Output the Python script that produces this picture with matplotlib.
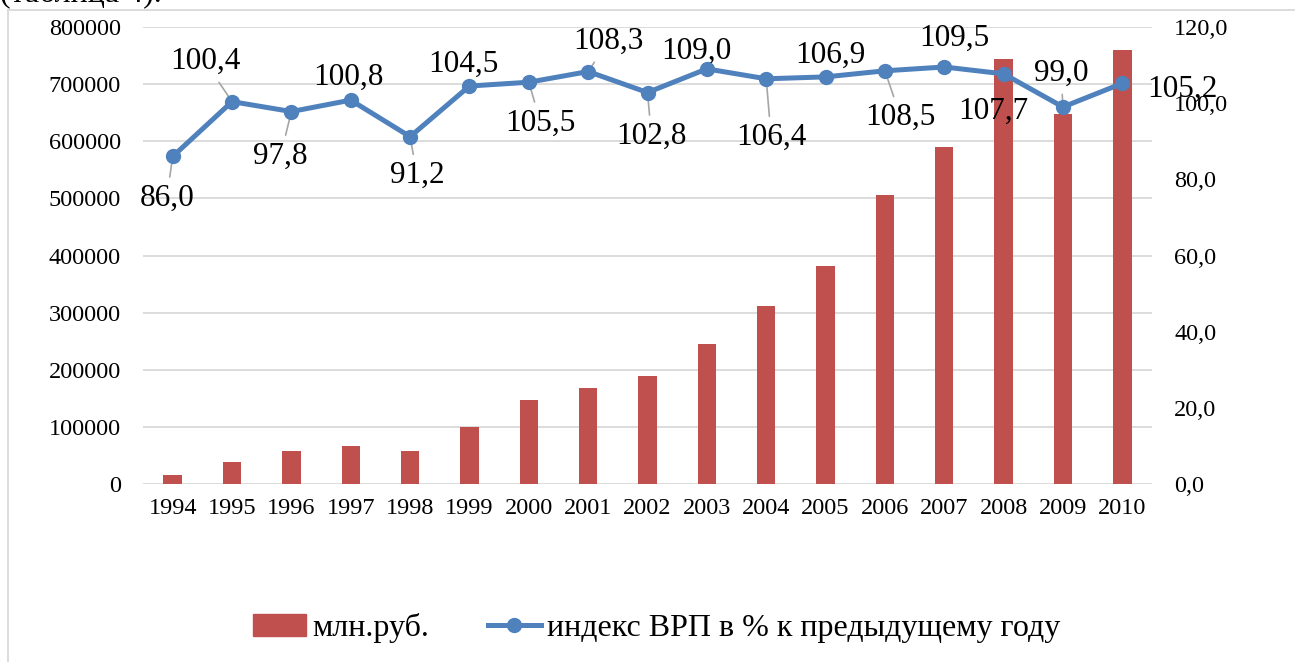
import matplotlib
matplotlib.use("Agg")
import matplotlib.pyplot as plt
from matplotlib.lines import Line2D
from matplotlib.patches import Patch
from matplotlib.ticker import FuncFormatter

plt.rcParams['font.family'] = ['Liberation Serif', 'DejaVu Serif']

# данные
years = ['1994', '1995', '1996', '1997', '1998', '1999', '2000', '2001', '2002',
         '2003', '2004', '2005', '2006', '2007', '2008', '2009', '2010']
grp_mln = [15000, 38000, 57000, 66000, 58000, 99000, 147000, 168000, 189000,
           245000, 312000, 382000, 506000, 590000, 744000, 648000, 760000]
grp_index = [86.0, 100.4, 97.8, 100.8, 91.2, 104.5, 105.5, 108.3, 102.8,
             109.0, 106.4, 106.9, 108.5, 109.5, 107.7, 99.0, 105.2]

bar_label = 'млн.руб.'
line_label = 'индекс ВРП в % к предыдущему году'

# положение подписей (сдвиг в пикселях) и выноски
label_offsets = [(-6, -42), (-27, 40), (-11, -45), (-2, 23), (7, -39), (-6, 22),
                 (12, -41), (20, 30), (4, -44), (-10, 18), (5, -59), (5, 22),
                 (16, -47), (10, 29), (-10, -37), (-2, 34), (60, -6)]
leaders = [True, True, True, False, True, False, True, True, True,
           False, True, False, True, False, False, True, False]

W, H = 1295, 662
bar_color = '#C0504D'
line_color = '#4F81BD'
grid_color = '#d9d9d9'

fig = plt.figure(figsize=(W / 100, H / 100), dpi=100)
ax = fig.add_axes([143 / W, 1 - 484 / H, 1009 / W, 457 / H])
ax2 = ax.twinx()

x = list(range(len(years)))
ax.bar(x, grp_mln, width=0.31, color=bar_color, zorder=2)
ax.set_xlim(-0.5, len(years) - 0.5)
ax.set_ylim(0, 800000)
ax.set_yticks(range(0, 800001, 100000))
ax.set_xticks(x)
ax.set_xticklabels(years)
ax.yaxis.grid(True, color=grid_color, lw=1.3, zorder=0)
ax.set_axisbelow(True)

ax2.plot(x, grp_index, color=line_color, lw=3.6, marker='o', markersize=10, zorder=3)
ax2.set_ylim(0, 120)
ax2.set_yticks(range(0, 121, 20))
ax2.yaxis.set_major_formatter(FuncFormatter(lambda v, p: f'{v:.1f}'.replace('.', ',')))

for a in (ax, ax2):
    for s in a.spines.values():
        s.set_visible(False)
    a.tick_params(length=0, labelsize=17.5, colors='black')
ax.tick_params(axis='y', pad=16)
ax.tick_params(axis='x', pad=10)
ax2.tick_params(axis='y', pad=16)

for i, v in enumerate(grp_index):
    dx, dy = label_offsets[i]
    props = None
    if leaders[i]:
        props = dict(arrowstyle='-', color='#a6a6a6', lw=1.2, shrinkA=3, shrinkB=0)
    ax2.annotate(f'{v:.1f}'.replace('.', ','), xy=(i, v), xytext=(dx, dy),
                 textcoords='offset pixels', ha='center', va='center',
                 fontsize=22.5, arrowprops=props, zorder=2)

handles = [Patch(color=bar_color),
           Line2D([], [], color=line_color, lw=3.6, marker='o', markersize=10)]
fig.legend(handles, [bar_label, line_label], loc='center', ncol=2,
           bbox_to_anchor=(0.507, 1 - 628 / H), frameon=False, fontsize=23,
           handlelength=1.65, handletextpad=0.2, columnspacing=1.85)

# рамка области диаграммы
fig.add_artist(Line2D([8 / W, 1], [1 - 10 / H, 1 - 10 / H], transform=fig.transFigure,
                      color=grid_color, lw=1.3))
fig.add_artist(Line2D([8 / W, 8 / W], [0, 1 - 10 / H], transform=fig.transFigure,
                      color=grid_color, lw=1.3))

# обрезанная строка текста над диаграммой
fig.text(0 / W, 1 - 1 / H, '(таблица 4).', fontsize=23, va='baseline', ha='left')

fig.savefig('out.png', dpi=100)
